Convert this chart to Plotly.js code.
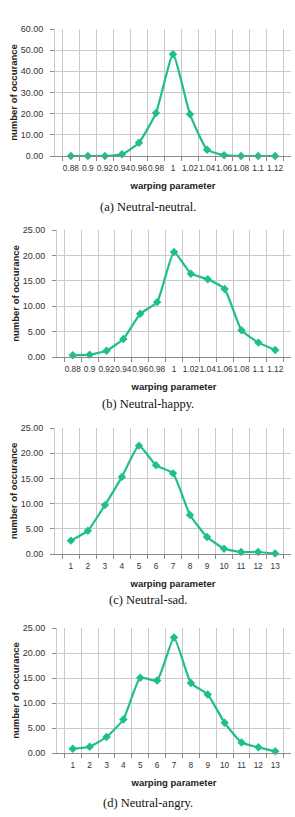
<!DOCTYPE html>
<html>
<head>
<meta charset="utf-8">
<script src="https://cdn.plot.ly/plotly-3.0.1.min.js"></script>
<style>
  html, body { margin: 0; padding: 0; background: #fff; }
  #chart { width: 295px; height: 817px; }
</style>
</head>
<body>
<div id="chart"></div>
<script>
// Warping-parameter categories
const warpFine = ["0.88", "0.9", "0.92", "0.94", "0.96", "0.98", "1", "1.02", "1.04", "1.06", "1.08", "1.1", "1.12"];
const warpIndex = ["1", "2", "3", "4", "5", "6", "7", "8", "9", "10", "11", "12", "13"];

// Number of occurrences per warping parameter
const neutralNeutral = [0, 0, 0, 0.8, 6.3, 20.3, 48.1, 19.7, 3.0, 0.4, 0, 0, 0];
const neutralHappy = [0.33, 0.46, 1.25, 3.55, 8.5, 10.8, 20.66, 16.4, 15.3, 13.4, 5.26, 2.83, 1.38];
const neutralSad = [2.65, 4.63, 9.7, 15.3, 21.5, 17.6, 16.0, 7.74, 3.37, 1.06, 0.4, 0.4, 0.1];
const neutralAngry = [0.86, 1.26, 3.2, 6.7, 15.05, 14.5, 23.1, 14.0, 11.7, 6.03, 2.1, 1.13, 0.33];

// Y-axis ranges and captions
const yMax = [60, 25, 25, 25];
const yStep = [10, 5, 5, 5];
const captions = ["(a) Neutral-neutral.", "(b) Neutral-happy.", "(c) Neutral-sad.", "(d) Neutral-angry."];

const W = 295, H = 817;
const lineColor = "#1fbf8d";

// Pixel frames of each panel: [left, right, top, bottom]
const frames = [
  [55, 291, 29, 156],
  [57, 291, 230, 357],
  [55, 291, 428, 554],
  [57, 291, 628, 753]
];
const captionY = [207, 404, 600, 803];

const seriesX = [warpFine, warpFine, warpIndex, warpIndex];
const seriesY = [neutralNeutral, neutralHappy, neutralSad, neutralAngry];

const xTickFont = {family: "Liberation Sans, Arial, sans-serif", size: 8.3, color: "#333"};
const yTickFont = {family: "Liberation Sans, Arial, sans-serif", size: 9, color: "#333"};
const titleFont = {family: "Liberation Sans, Arial, sans-serif", size: 9.5, color: "#222", weight: "bold"};

const traces = [];
const layout = {
  width: W, height: H,
  margin: {l: 0, r: 0, t: 0, b: 0},
  paper_bgcolor: "#fff",
  plot_bgcolor: "#fff",
  showlegend: false,
  annotations: []
};

for (let i = 0; i < 4; i++) {
  const n = i === 0 ? "" : String(i + 1);
  const [l, r, t, b] = frames[i];
  traces.push({
    type: "scatter",
    mode: "lines+markers",
    x: seriesX[i],
    y: seriesY[i],
    xaxis: "x" + n,
    yaxis: "y" + n,
    line: {color: lineColor, width: 2.2, shape: "spline", smoothing: 0.45},
    marker: {symbol: "diamond", size: 6.5, color: lineColor},
    cliponaxis: false
  });
  layout["xaxis" + n] = {
    type: "category",
    domain: [l / W, r / W],
    anchor: "y" + n,
    tickson: "boundaries",
    ticks: "outside",
    ticklen: 4,
    tickcolor: "#8a8a8a",
    tickangle: 0,
    ticklabelstandoff: 4,
    showgrid: true,
    gridcolor: "#c9c9c9",
    gridwidth: 1,
    showline: true,
    linecolor: "#8a8a8a",
    linewidth: 1,
    zeroline: false,
    tickfont: xTickFont,
    title: {text: "warping parameter", standoff: 10, font: titleFont},
    fixedrange: true
  };
  layout["yaxis" + n] = {
    domain: [1 - b / H, 1 - t / H],
    anchor: "x" + n,
    range: [0, yMax[i]],
    dtick: yStep[i],
    tick0: 0,
    tickformat: ".2f",
    ticks: "outside",
    ticklen: 4,
    tickcolor: "#8a8a8a",
    ticklabelstandoff: 5,
    showgrid: true,
    gridcolor: "#c9c9c9",
    gridwidth: 1,
    showline: true,
    linecolor: "#c9c9c9",
    zeroline: false,
    tickfont: yTickFont,
    title: {text: "number of occurance", standoff: 1, font: titleFont},
    fixedrange: true
  };
  layout.annotations.push({
    xref: "paper", yref: "paper",
    x: 0.5, y: 1 - captionY[i] / H,
    xanchor: "center", yanchor: "middle",
    showarrow: false,
    text: captions[i],
    font: {family: "Liberation Serif, Times New Roman, serif", size: 12.5, color: "#111"}
  });
}

Plotly.newPlot("chart", traces, layout, {staticPlot: true, displayModeBar: false});
</script>
</body>
</html>
